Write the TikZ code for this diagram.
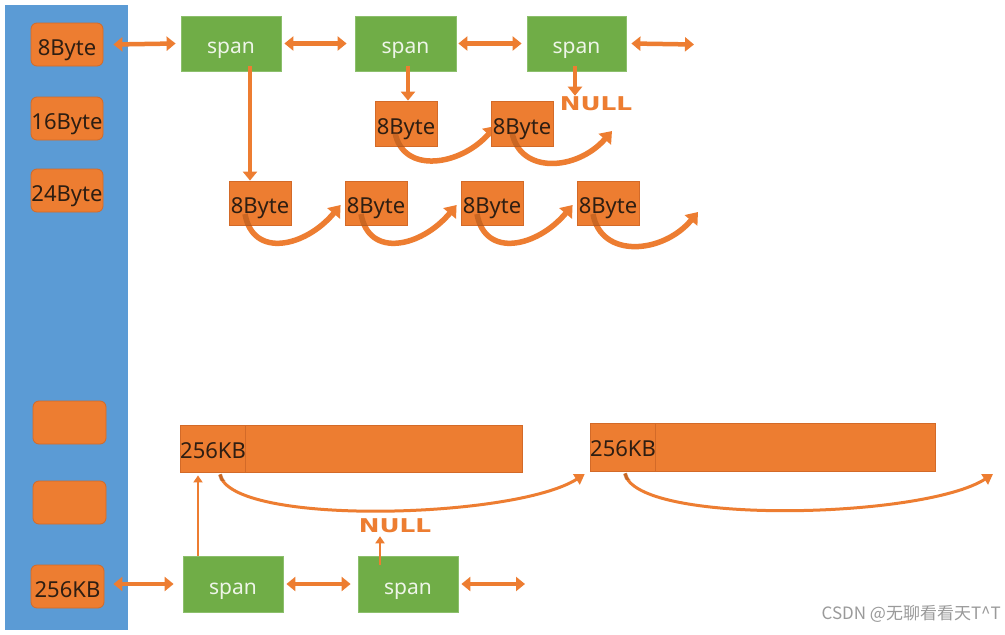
\documentclass[tikz,border=0pt]{standalone}
\usepackage{fontspec}
\setmainfont{Noto Sans}
\newfontfamily\cjkfont{Noto Sans CJK SC}
\newfontfamily\nulltextfont{DejaVu Sans}
\usetikzlibrary{arrows.meta}
\pgfdeclarelayer{behind}
\pgfsetlayers{behind,main}
\definecolor{myorange}{HTML}{ED7D31}
\definecolor{mygreen}{HTML}{70AD47}
\definecolor{myblue}{HTML}{5B9BD5}
\definecolor{oborder}{HTML}{D36A28}
\definecolor{gborder}{HTML}{8CBF6C}
\definecolor{spantext}{HTML}{EEF5E8}
\definecolor{wmgray}{HTML}{9A9A9A}
\definecolor{boxtext}{HTML}{2E1E12}
\definecolor{shade}{HTML}{A04A10}
\begin{document}
\begin{tikzpicture}[x=1pt,y=-1pt,
 obox/.style={draw=oborder, line width=0.8pt, fill=myorange, text=boxtext, font=\fontsize{22}{22}\selectfont, inner sep=0pt, text height=21pt, text depth=0pt},
 lbox/.style={obox, rounded corners=6pt, minimum width=72pt, minimum height=43pt},
 bytebox/.style={obox, minimum width=62pt, minimum height=44pt},
 spanbox/.style={draw=gborder, line width=0.8pt, fill=mygreen, text=spantext, font=\fontsize{21}{21}\selectfont, minimum width=100pt, minimum height=55pt, inner sep=0pt, text height=20pt, text depth=0pt},
 dbl/.style={draw=myorange, line width=4.5pt, {Triangle[width=14pt,length=9pt]}-{Triangle[width=14pt,length=9pt]}},
 dnarrow/.style={draw=myorange, line width=4.5pt, -{Triangle[width=14pt,length=9pt]}},
 thinup/.style={draw=myorange, line width=2.5pt, -{Triangle[width=9pt,length=7pt]}},
 curv/.style={draw=myorange, line width=5.5pt, -{Triangle[width=16pt,length=11pt]}},
 curvshade/.style={draw=shade, draw opacity=0.45, line width=5.5pt},
 longcurv/.style={draw=myorange, line width=3pt, -{Triangle[width=12pt,length=10pt]}},
 longshade/.style={draw=shade, draw opacity=0.45, line width=4pt},
 nulltxt/.style={text=myorange, font=\nulltextfont\bfseries\fontsize{19}{19}\selectfont, inner sep=0pt},
]
\begin{pgfonlayer}{behind}
\fill[white] (0,0) rectangle (1005,635);
% blue column
\fill[myblue] (5,5) rectangle (128,630);
\end{pgfonlayer}
\useasboundingbox (0,0) rectangle (1005,635);
% left boxes
\node[lbox] (L1) at (67,44.5) {8Byte};
\node[lbox] (L2) at (67,118.5) {16Byte};
\node[lbox] (L3) at (67,190.5) {24Byte};
\node[lbox, minimum width=73pt] (L4) at (69.5,422.5) {};
\node[lbox, minimum width=73pt] (L5) at (69.5,502.5) {};
\node[lbox, minimum width=73pt] (L6) at (67.5,586.5) {256KB};
% top spans
\node[spanbox] (S1) at (231,43.5) {span};
\node[spanbox, minimum width=101pt] (S2) at (405.5,43.5) {span};
\node[spanbox, minimum width=99pt] (S3) at (576.5,43.5) {span};
% row 1 blocks
\node[bytebox, minimum height=45pt] (A1) at (406,123.5) {8Byte};
\node[bytebox, minimum height=45pt] (A2) at (522,123.5) {8Byte};
\node[nulltxt] (N1) at (596,104) {\scalebox{1.3}[1]{NULL}};
% row 2 blocks
\node[bytebox] (B1) at (260,203) {8Byte};
\node[bytebox] (B2) at (376,203) {8Byte};
\node[bytebox] (B3) at (492,203) {8Byte};
\node[bytebox] (B4) at (608,203) {8Byte};
% big blocks
\node[obox, minimum width=341pt, minimum height=47pt] (K1bar) at (351.5,448.5) {};
\node[obox, minimum width=64pt, minimum height=47pt, text height=19pt] (K1) at (213,448.5) {256KB};
\node[obox, minimum width=344pt, minimum height=48pt] (K2bar) at (763,447) {};
\node[obox, minimum width=64pt, minimum height=48pt, text height=19pt] (K2) at (623,447) {256KB};
% bottom spans
\node[spanbox, minimum height=56pt] (S4) at (233,584) {span};
\node[spanbox, minimum height=56pt] (S5) at (408,584) {span};
\node[nulltxt] (N2) at (395,526) {\scalebox{1.3}[1]{NULL}};
% free ends
\coordinate (E1) at (694,44.5);
\coordinate (E2) at (612,131);
\coordinate (E3) at (698,212);
\coordinate (E4) at (993,474);
\coordinate (E5) at (525,584);
% horizontal double arrows
\draw[dbl] ([xshift=10pt]L1.east) -- ([xshift=-5pt]S1.west);
\draw[dbl] ([xshift=3pt]S1.east) -- ([xshift=-8pt]S2.west);
\draw[dbl] ([xshift=2pt]S2.east) -- ([xshift=-5pt]S3.west);
\draw[dbl] ([xshift=5pt]S3.east) -- (E1);
\draw[dbl] ([xshift=9pt]L6.east |- S4.west) -- ([xshift=-9pt]S4.west);
\draw[dbl] ([xshift=3pt]S4.east) -- ([xshift=-7pt]S5.west);
\draw[dbl] ([xshift=3pt]S5.east) -- (E5);
% vertical arrows
\draw[dnarrow] ([xshift=19pt,yshift=5pt]S1.south) -- ([xshift=-10pt]B1.north);
\draw[dnarrow] ([xshift=2.5pt,yshift=5pt]S2.south) -- ([xshift=2pt]A1.north);
\draw[dnarrow] ([xshift=-1.5pt,yshift=5pt]S3.south) -- ([xshift=-21pt,yshift=1pt]N1.north);
\draw[thinup] ([xshift=-35pt]S4.north) -- ([xshift=-15pt,yshift=-3pt]K1.south);
\draw[thinup] ([xshift=-28pt,yshift=-9pt]S5.north) -- ([xshift=-15pt,yshift=-3pt]N2.south);
% curved arrows (solid part behind the boxes)
\begin{pgfonlayer}{behind}
\draw[curv] ([xshift=-11pt,yshift=-9pt]A1.center) .. controls +(8,42) and +(-35,40) .. ([xshift=5pt,yshift=-2.5pt]A2.west);
\draw[curv] ([xshift=-10pt,yshift=-9pt]A2.center) .. controls +(8,42) and +(-35,40) .. (E2);
\draw[curv] ([xshift=-15pt,yshift=-11pt]B1.center) .. controls +(8,45) and +(-35,42) .. ([xshift=-4pt,yshift=-2pt]B2.west);
\draw[curv] ([xshift=-15pt,yshift=-11pt]B2.center) .. controls +(8,45) and +(-35,42) .. ([xshift=-4pt,yshift=-2pt]B3.west);
\draw[curv] ([xshift=-15pt,yshift=-11pt]B3.center) .. controls +(8,45) and +(-35,42) .. ([xshift=-4pt,yshift=-2pt]B4.west);
\draw[curv] ([xshift=-15pt,yshift=-11pt]B4.center) .. controls +(8,45) and +(-35,42) .. (E3);
\draw[longcurv] ([xshift=7pt,yshift=-2pt]K1.south) .. controls +(10,52) and +(-70,45) .. ([xshift=-5pt,yshift=-27pt]K2.west);
\draw[longcurv] ([xshift=2pt,yshift=-2pt]K2.south) .. controls +(10,52) and +(-70,45) .. (E4);
\end{pgfonlayer}
% translucent shading of the curved arrows inside their boxes
\begin{scope}\clip (A1.south west) rectangle (A1.north east);
\draw[curvshade] ([xshift=-11pt,yshift=-9pt]A1.center) .. controls +(8,42) and +(-35,40) .. ([xshift=5pt,yshift=-2.5pt]A2.west);\end{scope}
\begin{scope}\clip (A2.south west) rectangle (A2.north east);
\draw[curvshade] ([xshift=-10pt,yshift=-9pt]A2.center) .. controls +(8,42) and +(-35,40) .. (E2);\end{scope}
\begin{scope}\clip (B1.south west) rectangle (B1.north east);
\draw[curvshade] ([xshift=-15pt,yshift=-11pt]B1.center) .. controls +(8,45) and +(-35,42) .. ([xshift=-4pt,yshift=-2pt]B2.west);\end{scope}
\begin{scope}\clip (B2.south west) rectangle (B2.north east);
\draw[curvshade] ([xshift=-15pt,yshift=-11pt]B2.center) .. controls +(8,45) and +(-35,42) .. ([xshift=-4pt,yshift=-2pt]B3.west);\end{scope}
\begin{scope}\clip (B3.south west) rectangle (B3.north east);
\draw[curvshade] ([xshift=-15pt,yshift=-11pt]B3.center) .. controls +(8,45) and +(-35,42) .. ([xshift=-4pt,yshift=-2pt]B4.west);\end{scope}
\begin{scope}\clip (B4.south west) rectangle (B4.north east);
\draw[curvshade] ([xshift=-15pt,yshift=-11pt]B4.center) .. controls +(8,45) and +(-35,42) .. (E3);\end{scope}
\begin{scope}\clip ([yshift=-8pt]K1.south west) rectangle (K1.north east);
\draw[longshade] ([xshift=7pt,yshift=-2pt]K1.south) .. controls +(10,52) and +(-70,45) .. ([xshift=-5pt,yshift=-27pt]K2.west);\end{scope}
\begin{scope}\clip ([yshift=-8pt]K2.south west) rectangle (K2.north east);
\draw[longshade] ([xshift=2pt,yshift=-2pt]K2.south) .. controls +(10,52) and +(-70,45) .. (E4);\end{scope}
% watermark
\node[anchor=east, text=wmgray, font=\cjkfont\fontsize{17}{17}\selectfont, inner sep=0pt] (wm) at (1001,614) {CSDN @无聊看看天T\^{}T};
\end{tikzpicture}
\end{document}
